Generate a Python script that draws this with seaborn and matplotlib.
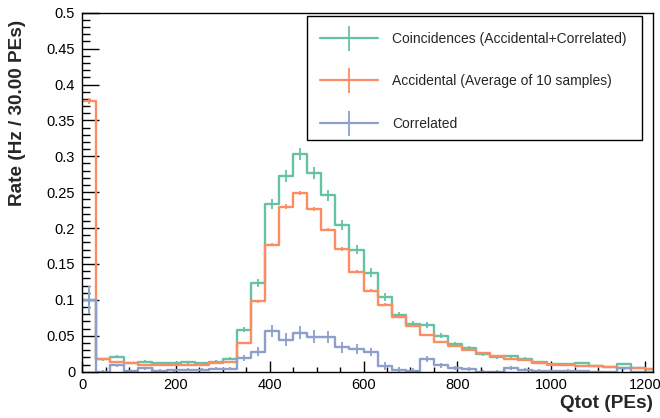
import numpy as np
import pandas as pd
import matplotlib
matplotlib.use("Agg")
import matplotlib.pyplot as plt
from matplotlib.lines import Line2D
from matplotlib.patches import Rectangle
from matplotlib.ticker import MultipleLocator, FuncFormatter
import seaborn as sns

# ---- data (bin width 30 PEs, 41 bins from 0) ----
bin_edges = list(range(0, 1231, 30))

coincidences = [0.100, 0.017, 0.021, 0.012, 0.014, 0.0115, 0.012, 0.013, 0.012, 0.014,
                0.0177, 0.0585, 0.1235, 0.2335, 0.273, 0.303, 0.2765, 0.2455, 0.2047, 0.170,
                0.138, 0.104, 0.0785, 0.0669, 0.065, 0.050, 0.0386, 0.0334, 0.0246, 0.0205,
                0.0213, 0.018, 0.0135, 0.0107, 0.011, 0.012, 0.0074, 0.0065, 0.0107, 0.005,
                0.004]
coincidences_err = [0.0150, 0.0020, 0.0023, 0.0017, 0.0019, 0.0017, 0.0017, 0.0018, 0.0017, 0.0019,
                    0.0021, 0.0038, 0.0055, 0.0076, 0.0082, 0.0086, 0.0083, 0.0078, 0.0071, 0.0065,
                    0.0058, 0.0051, 0.0044, 0.0041, 0.0040, 0.0035, 0.0031, 0.0029, 0.0025, 0.0022,
                    0.0023, 0.0021, 0.0018, 0.0016, 0.0016, 0.0017, 0.0014, 0.0013, 0.0016, 0.0011,
                    0.0010]

accidental = [0.377, 0.018, 0.0135, 0.012, 0.010, 0.010, 0.010, 0.010, 0.0095, 0.012,
              0.0135, 0.040, 0.098, 0.177, 0.230, 0.249, 0.227, 0.198, 0.171, 0.139,
              0.113, 0.0933, 0.0762, 0.064, 0.0506, 0.042, 0.036, 0.0306, 0.026, 0.0213,
              0.018, 0.016, 0.0125, 0.0088, 0.0088, 0.0074, 0.0074, 0.006, 0.0056, 0.005,
              0.004]
accidental_err = [0.0037, 0.0008, 0.0007, 0.0007, 0.0006, 0.0006, 0.0006, 0.0006, 0.0006, 0.0007,
                  0.0007, 0.0012, 0.0019, 0.0025, 0.0029, 0.0030, 0.0029, 0.0027, 0.0025, 0.0022,
                  0.0020, 0.0018, 0.0017, 0.0015, 0.0013, 0.0012, 0.0011, 0.0010, 0.0010, 0.0009,
                  0.0008, 0.0008, 0.0007, 0.0006, 0.0006, 0.0005, 0.0005, 0.0005, 0.0004, 0.0004,
                  0.0004]

correlated = [0.100, 0.0, 0.009, 0.001, 0.005, 0.0015, 0.002, 0.003, 0.003, 0.004,
              0.004, 0.019, 0.028, 0.057, 0.0445, 0.054, 0.049, 0.048, 0.034, 0.0316,
              0.0274, 0.0074, 0.002, 0.001, 0.0177, 0.009, 0.005, 0.004, 0.0, 0.0,
              0.005, 0.003, 0.0015, 0.001, 0.0015, 0.001, 0.0, 0.0, 0.0046, 0.0, 0.0]
correlated_err = [0.019, 0.0022, 0.0024, 0.0018, 0.0020, 0.0018, 0.0018, 0.0019, 0.0018, 0.0020,
                  0.0022, 0.0040, 0.0058, 0.0080, 0.0087, 0.0091, 0.0088, 0.0083, 0.0075, 0.0069,
                  0.0061, 0.0054, 0.0047, 0.0044, 0.0042, 0.0037, 0.0033, 0.0031, 0.0027, 0.0024,
                  0.0024, 0.0022, 0.0019, 0.0017, 0.0017, 0.0018, 0.0015, 0.0014, 0.0017, 0.0012,
                  0.0011]

labels = ["Coincidences (Accidental+Correlated)",
          "Accidental (Average of 10 samples)",
          "Correlated"]
colors = ["#66c2a5", "#fc8d62", "#8da0cb"]

# ---- plotting ----
sns.set_theme(style="ticks")
plt.rcParams["font.family"] = ["Liberation Sans", "DejaVu Sans"]

fig = plt.figure(figsize=(6.6, 4.18), dpi=100)
ax = fig.add_axes([0.1244, 0.1108, 0.865, 0.8588])

centers = [(a + b) / 2 for a, b in zip(bin_edges[:-1], bin_edges[1:])]

series = [(coincidences, coincidences_err), (accidental, accidental_err), (correlated, correlated_err)]
for (vals, errs), col in zip(series, colors):
    df = pd.DataFrame({"q": centers, "w": vals})
    sns.histplot(data=df, x="q", weights="w", bins=list(bin_edges), element="step", fill=False,
                 color=col, linewidth=1.7, ax=ax)
    ax.errorbar(centers, vals, yerr=errs, fmt="none", ecolor=col, elinewidth=1.3, capsize=0)

ax.set_xlim(0, 1217)
ax.set_ylim(0, 0.5)
ax.set_xlabel("")
ax.set_ylabel("")

ax.xaxis.set_major_locator(MultipleLocator(200))
ax.xaxis.set_minor_locator(MultipleLocator(50))
ax.yaxis.set_major_locator(MultipleLocator(0.05))
ax.yaxis.set_minor_locator(MultipleLocator(0.01))


def yfmt(v, pos):
    return f"{v:.2f}".rstrip("0").rstrip(".")


ax.yaxis.set_major_formatter(FuncFormatter(yfmt))

ax.tick_params(axis="both", which="both", direction="in", top=False, right=False,
               labelsize=10.5, colors="black", width=1.0)
ax.tick_params(axis="y", which="major", length=12, pad=5)
ax.tick_params(axis="y", which="minor", length=6)
ax.tick_params(axis="x", which="major", length=7.7, pad=4.5)
ax.tick_params(axis="x", which="minor", length=3.8)

for sp in ax.spines.values():
    sp.set_visible(True)
    sp.set_color("black")
    sp.set_linewidth(1.0)

# axis titles (ROOT style, aligned to the end of the axes)
fig.text(18 / 660, 1 - 20 / 418, "Rate (Hz / 30.00 PEs)", rotation=90, ha="center", va="top",
         fontsize=13.7, fontweight="bold")
fig.text(653 / 660, 1 - 403 / 418, "Qtot (PEs)", ha="right", va="center",
         fontsize=13.7, fontweight="bold")

# legend box (drawn as a rectangle) and entries
box = Rectangle((0.394, 0.6454), 0.586, 0.3454, transform=ax.transAxes, facecolor="white",
                edgecolor="black", linewidth=1.0, zorder=4.5)
ax.add_patch(box)
handles = [Line2D([0], [0], color=c, lw=1.6, marker="|", markersize=18, markeredgewidth=1.3)
           for c in colors]
leg = ax.legend(handles, labels, loc="upper left", bbox_to_anchor=(0.394, 0.6454, 0.586, 0.982 - 0.6454),
                mode="expand", borderaxespad=0, frameon=False, fontsize=10,
                handlelength=4.2, handletextpad=1.0, labelspacing=2.05, borderpad=0.9)
leg.set_zorder(5)

fig.savefig("out.png", dpi=100)
